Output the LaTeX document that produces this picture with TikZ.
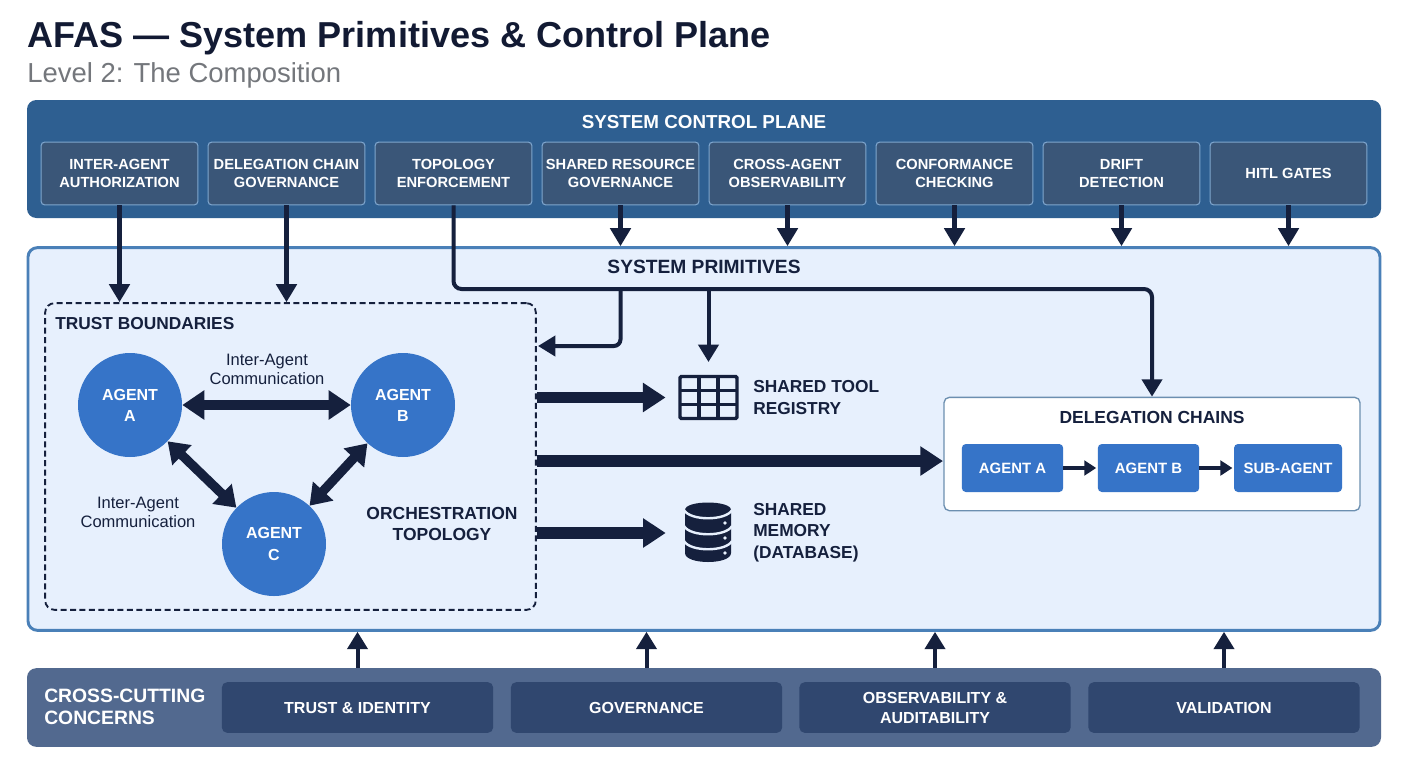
\documentclass[tikz,border=0pt]{standalone}
\usepackage{fontspec}
\setmainfont{Liberation Sans}
\usetikzlibrary{arrows.meta}
\definecolor{ink}{HTML}{15203D}
\definecolor{titleink}{HTML}{121A33}
\definecolor{bandtop}{HTML}{2E5F91}
\definecolor{ctrlfill}{HTML}{3A5678}
\definecolor{ctrlline}{HTML}{7FA6CE}
\definecolor{panel}{HTML}{E7F0FD}
\definecolor{panelline}{HTML}{4A80B8}
\definecolor{agentblue}{HTML}{3674C8}
\definecolor{bandbot}{HTML}{52698F}
\definecolor{botfill}{HTML}{30476F}
\definecolor{subgrey}{HTML}{74777C}
\definecolor{chainline}{HTML}{6C8FB0}
\newcommand{\fs}[2]{\fontsize{#1}{#2}\selectfont}
\tikzset{
  band/.style={inner sep=0pt,rounded corners=7pt},
  ctrlbox/.style={draw=ctrlline,line width=.8pt,fill=ctrlfill,rounded corners=2.5pt,minimum width=117.5pt,minimum height=47pt,inner sep=0pt,align=center,text=white,font=\fs{11}{13.5}\bfseries},
  botbox/.style={fill=botfill,rounded corners=4pt,minimum width=203.5pt,minimum height=38pt,inner sep=0pt,align=center,text=white,font=\fs{12}{15}\bfseries},
  agent/.style={circle,fill=agentblue,minimum size=78pt,inner sep=0pt,align=center,text=white,font=\fs{12}{15.8}\bfseries},
  chainbox/.style={fill=agentblue,rounded corners=3pt,minimum height=36pt,inner sep=0pt,text=white,font=\fs{11.2}{13}\bfseries},
  head/.style={align=center,text=ink,inner sep=0pt,font=\fs{13.1}{16}\bfseries},
  lefthead/.style={head,align=left},
  note/.style={align=center,text=ink,inner sep=0pt,font=\fs{12.4}{14.3}},
  arrow/.style={draw=ink,line width=3.6pt,-{Triangle[length=13.5pt,width=15pt]}},
  midarrow/.style={draw=ink,line width=3pt,-{Triangle[length=13pt,width=15pt]}},
  upper/.style={draw=ink,line width=3pt,-{Triangle[length=13pt,width=15pt]}},
  bigarrow/.style={draw=ink,line width=8.5pt,-{Triangle[length=17pt,width=21pt]}},
  biarrow/.style={draw=ink,line width=8pt,{Triangle[length=16.5pt,width=21pt]}-{Triangle[length=16.5pt,width=21pt]}},
  diagarrow/.style={draw=ink,line width=7pt,{Triangle[length=15pt,width=20pt]}-{Triangle[length=15pt,width=20pt]}},
  thinarrow/.style={draw=ink,line width=2.6pt,-{Triangle[length=9pt,width=11pt]},shorten >=1pt},
}
\begin{document}
\begin{tikzpicture}[x=.75pt,y=-.75pt]
\useasboundingbox (0,0) rectangle (1408,768);
\fill[white] (0,0) rectangle (1408,768);
% titles
\node[anchor=base west,inner sep=0pt,text=titleink,font=\fs{27.05}{32}\bfseries] (title) at (27,47) {AFAS — System Primitives \& Control Plane};
\node[anchor=base west,inner sep=0pt,text=subgrey,font=\fs{20.6}{24}] (subtitle) at (27,82) {Level 2: The Composition};
% bands
\node[band,fill=bandtop,minimum width=1015.5pt,minimum height=88.5pt] (top) at (704,159) {};
\node[band,fill=panel,draw=panelline,line width=2.2pt,minimum width=1014pt,minimum height=287pt] (prim) at (704,439) {};
\node[band,fill=bandbot,minimum width=1015.5pt,minimum height=59pt] (bot) at (704,707.5) {};
\node[text=white,inner sep=0pt,font=\fs{14.1}{16}\bfseries] (toptitle) at (704,122) {SYSTEM CONTROL PLANE};
\node[head,font=\fs{14.4}{16}\bfseries] (primtitle) at (704,267) {SYSTEM PRIMITIVES};
% control boxes
\node[ctrlbox] (c1) at (119.5,173.5) {INTER-AGENT\\AUTHORIZATION};
\node[ctrlbox] (c2) at (286.5,173.5) {DELEGATION CHAIN\\GOVERNANCE};
\node[ctrlbox] (c3) at (453.5,173.5) {TOPOLOGY\\ENFORCEMENT};
\node[ctrlbox] (c4) at (620.5,173.5) {SHARED RESOURCE\\GOVERNANCE};
\node[ctrlbox] (c5) at (787.5,173.5) {CROSS-AGENT\\OBSERVABILITY};
\node[ctrlbox] (c6) at (954.5,173.5) {CONFORMANCE\\CHECKING};
\node[ctrlbox] (c7) at (1121.5,173.5) {DRIFT\\DETECTION};
\node[ctrlbox] (c8) at (1288.5,173.5) {HITL GATES};
% trust boundary
\node[draw=ink,line width=1.4pt,dash pattern=on 4.5pt off 2.6pt,rounded corners=7pt,minimum width=368pt,minimum height=230pt,inner sep=0pt] (tb) at (290.5,456.5) {};
\node[anchor=west,text=ink,inner sep=0pt,font=\fs{13}{16}\bfseries] (tbtitle) at (55,324) {TRUST BOUNDARIES};
% agents
\node[agent] (A) at (130,405) {AGENT\\A};
\node[agent] (B) at (403,405) {AGENT\\B};
\node[agent] (C) at (274,544) {AGENT\\C};
\draw[biarrow] (A) -- (B);
\draw[diagarrow] (A) -- (C);
\draw[diagarrow] (B) -- (C);
\node[note] (n1) at (267,369) {Inter-Agent\\Communication};
\node[note] (n2) at (138,512) {Inter-Agent\\Communication};
\node[head] (orch) at (442,524) {ORCHESTRATION\\TOPOLOGY};
% shared tool registry
\node[inner sep=0pt,minimum width=45pt,minimum height=34pt] (tool) at (708.5,397.5) {};
\draw[ink,line width=2.6pt,rounded corners=1pt] (680,376.5) rectangle (737,418.5);
\draw[ink,line width=2.6pt] (699,376.5) -- (699,418.5) (718,376.5) -- (718,418.5) (680,390.5) -- (737,390.5) (680,404.5) -- (737,404.5);
\node[lefthead,anchor=west,font=\fs{13}{16}\bfseries] (toollabel) at (753,397.5) {SHARED TOOL\\REGISTRY};
% shared memory
\node[inner sep=0pt,minimum width=35pt,minimum height=45pt] (db) at (708,533) {};
\fill[ink] (685,510) .. controls (685,500) and (731,500) .. (731,510) -- (731,553) .. controls (731,565) and (685,565) .. (685,553) -- cycle;
\draw[panel,line width=1.8pt] (684,510) .. controls (690,521) and (726,521) .. (732,510);
\draw[panel,line width=1.8pt] (684,526) .. controls (690,537) and (726,537) .. (732,526);
\draw[panel,line width=1.8pt] (684,541) .. controls (690,552) and (726,552) .. (732,541);
\fill[panel] (725,523) circle[radius=1.4pt] (725,538) circle[radius=1.4pt] (725,553) circle[radius=1.4pt];
\node[lefthead,anchor=west,font=\fs{13}{16}\bfseries] (dblabel) at (753,532.5) {SHARED\\MEMORY\\(DATABASE)};
% delegation chains
\node[draw=chainline,line width=1pt,fill=white,rounded corners=4pt,minimum width=312pt,minimum height=85pt,inner sep=0pt] (dc) at (1152,454) {};
\node[head] (dctitle) at (1152,417) {DELEGATION CHAINS};
\node[chainbox,minimum width=76pt] (ca) at (1012.5,468) {AGENT A};
\node[chainbox,minimum width=76pt] (cb) at (1148.5,468) {AGENT B};
\node[chainbox,minimum width=81pt] (cc) at (1288,468) {SUB-AGENT};
\draw[thinarrow] (ca) -- (cb);
\draw[thinarrow] (cb) -- (cc);
% bottom boxes
\node[anchor=west,align=left,text=white,inner sep=0pt,font=\fs{14.5}{16.5}\bfseries] (botlabel) at (44,707) {CROSS-CUTTING\\CONCERNS};
\node[botbox] (b1) at (357.5,707.5) {TRUST \& IDENTITY};
\node[botbox] (b2) at (646.5,707.5) {GOVERNANCE};
\node[botbox] (b3) at (935,707.5) {OBSERVABILITY \&\\AUDITABILITY};
\node[botbox] (b4) at (1224,707.5) {VALIDATION};
% connectors
\draw[arrow] (c1.south) -- (c1.south |- tb.north);
\draw[arrow] (c2.south) -- (c2.south |- tb.north);
\coordinate (busleft) at (453.5,289);
\coordinate (busright) at (1152,289);
\coordinate (j1) at (620.5,289);
\coordinate (j2) at (708.5,289);
\coordinate (tbin) at (538,346);
\draw[midarrow,rounded corners=6pt] (c3.south) -- (busleft) -- (busright) -- (dc.north);
\draw[midarrow,rounded corners=5pt] (j1) -- (j1 |- tbin) -- (tbin);
\coordinate (toolin) at (708.5,362);
\draw[midarrow] (j2) -- (toolin);
\draw[arrow] (c4.south) -- (c4.south |- prim.north);
\draw[arrow] (c5.south) -- (c5.south |- prim.north);
\draw[arrow] (c6.south) -- (c6.south |- prim.north);
\draw[arrow] (c7.south) -- (c7.south |- prim.north);
\draw[arrow] (c8.south) -- (c8.south |- prim.north);
\coordinate (dcin) at (943,461);
\draw[bigarrow,shorten >=9.5pt] (tb.east |- tool) -- (tool.west);
\draw[bigarrow] (tb.east |- dcin) -- (dcin);
\draw[bigarrow,shorten >=14pt] (tb.east |- db) -- (db.west);
\draw[upper] (b1.north |- bot.north) -- (b1.north |- prim.south);
\draw[upper] (b2.north |- bot.north) -- (b2.north |- prim.south);
\draw[upper] (b3.north |- bot.north) -- (b3.north |- prim.south);
\draw[upper] (b4.north |- bot.north) -- (b4.north |- prim.south);
\end{tikzpicture}
\end{document}
